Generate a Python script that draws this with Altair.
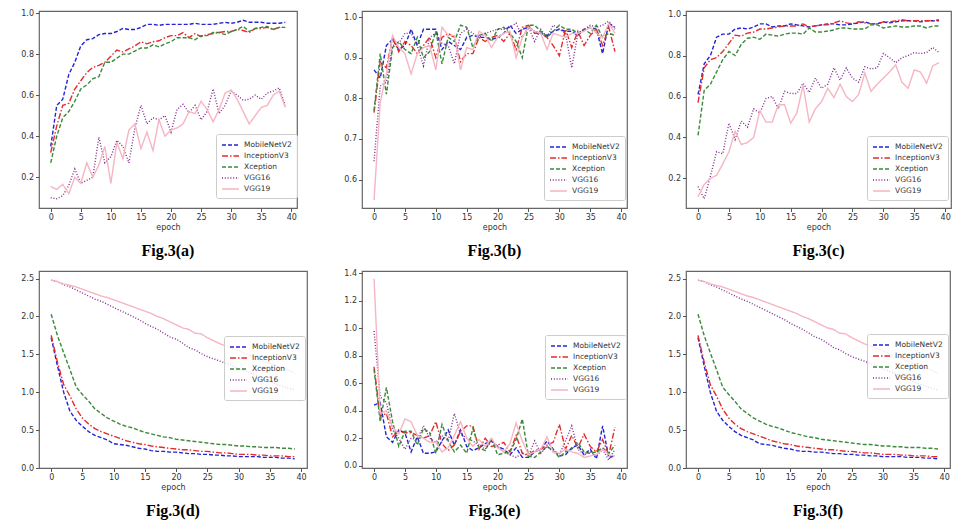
import altair as alt
import pandas as pd

MODELS = ["MobileNetV2", "InceptionV3", "Xception", "VGG16", "VGG19"]
COLORS = ["#2424d4", "#e42a2a", "#3a8a3a", "#7e2e8c", "#f5b5c2"]
DASHES = [[4, 2], [6, 2, 1.5, 2], [4, 2], [1, 1.8], [1, 0]]
EPOCHS = list(range(40))
X_TICKS = [0, 5, 10, 15, 20, 25, 30, 35, 40]

# ---- Fig.3(a) ----
a_mobilenet = [0.35, 0.55, 0.58, 0.70, 0.76, 0.84, 0.87, 0.875, 0.895, 0.90,
               0.90, 0.91, 0.925, 0.92, 0.92, 0.93, 0.945, 0.945, 0.94, 0.945,
               0.945, 0.945, 0.945, 0.945, 0.95, 0.945, 0.945, 0.945, 0.95, 0.955,
               0.95, 0.955, 0.965, 0.955, 0.955, 0.955, 0.95, 0.95, 0.95, 0.955]
a_inception = [0.32, 0.45, 0.55, 0.56, 0.63, 0.67, 0.71, 0.735, 0.745, 0.76,
               0.79, 0.82, 0.81, 0.825, 0.84, 0.86, 0.85, 0.86, 0.865, 0.88,
               0.89, 0.89, 0.905, 0.88, 0.90, 0.885, 0.895, 0.90, 0.905, 0.91,
               0.91, 0.92, 0.915, 0.905, 0.925, 0.925, 0.93, 0.92, 0.93, 0.93]
a_xception = [0.27, 0.40, 0.49, 0.52, 0.57, 0.63, 0.65, 0.68, 0.69, 0.76,
              0.76, 0.78, 0.80, 0.80, 0.815, 0.83, 0.83, 0.845, 0.835, 0.85,
              0.86, 0.88, 0.88, 0.88, 0.87, 0.89, 0.89, 0.905, 0.905, 0.895,
              0.91, 0.92, 0.935, 0.91, 0.925, 0.93, 0.935, 0.92, 0.93, 0.93]
a_vgg16 = [0.10, 0.095, 0.11, 0.16, 0.24, 0.17, 0.185, 0.20, 0.395, 0.27,
           0.30, 0.38, 0.35, 0.27, 0.44, 0.55, 0.46, 0.49, 0.48, 0.50,
           0.42, 0.53, 0.555, 0.515, 0.55, 0.48, 0.52, 0.63, 0.51, 0.55,
           0.62, 0.60, 0.575, 0.58, 0.60, 0.58, 0.61, 0.62, 0.635, 0.55]
a_vgg19 = [0.155, 0.14, 0.165, 0.12, 0.20, 0.17, 0.27, 0.20, 0.26, 0.35,
           0.17, 0.37, 0.29, 0.43, 0.46, 0.34, 0.42, 0.33, 0.48, 0.40,
           0.43, 0.44, 0.46, 0.52, 0.51, 0.57, 0.53, 0.47, 0.53, 0.61,
           0.625, 0.58, 0.52, 0.46, 0.50, 0.54, 0.55, 0.60, 0.62, 0.54]

# ---- Fig.3(b) ----
b_mobilenet = [0.87, 0.85, 0.93, 0.945, 0.92, 0.93, 0.97, 0.93, 0.97, 0.97,
               0.97, 0.92, 0.94, 0.93, 0.92, 0.95, 0.955, 0.95, 0.95, 0.945,
               0.95, 0.96, 0.98, 0.96, 0.97, 0.975, 0.965, 0.96, 0.955, 0.965,
               0.97, 0.965, 0.965, 0.955, 0.97, 0.975, 0.97, 0.91, 0.985, 0.975]
b_inception = [0.765, 0.89, 0.875, 0.95, 0.915, 0.94, 0.93, 0.91, 0.93, 0.95,
               0.90, 0.95, 0.96, 0.95, 0.89, 0.91, 0.91, 0.95, 0.94, 0.95,
               0.955, 0.94, 0.96, 0.92, 0.975, 0.98, 0.96, 0.96, 0.95, 0.93,
               0.905, 0.97, 0.925, 0.965, 0.93, 0.955, 0.97, 0.93, 0.975, 0.915]
b_xception = [0.77, 0.91, 0.81, 0.925, 0.94, 0.92, 0.91, 0.95, 0.90, 0.915,
              0.965, 0.885, 0.95, 0.94, 0.98, 0.975, 0.925, 0.955, 0.96, 0.94,
              0.97, 0.975, 0.96, 0.94, 0.90, 0.98, 0.98, 0.965, 0.95, 0.965,
              0.98, 0.97, 0.97, 0.96, 0.97, 0.96, 0.98, 0.95, 0.96, 0.955]
b_vgg16 = [0.645, 0.83, 0.84, 0.93, 0.935, 0.96, 0.96, 0.93, 0.88, 0.95,
           0.96, 0.935, 0.93, 0.885, 0.96, 0.97, 0.96, 0.95, 0.96, 0.965,
           0.97, 0.97, 0.975, 0.985, 0.95, 0.975, 0.94, 0.97, 0.95, 0.98,
           0.97, 0.96, 0.875, 0.96, 0.97, 0.98, 0.975, 0.98, 0.99, 0.97]
b_vgg19 = [0.55, 0.79, 0.86, 0.955, 0.925, 0.91, 0.86, 0.91, 0.925, 0.93,
           0.87, 0.975, 0.955, 0.955, 0.87, 0.925, 0.92, 0.965, 0.955, 0.925,
           0.95, 0.96, 0.965, 0.90, 0.95, 0.975, 0.965, 0.96, 0.92, 0.96,
           0.955, 0.95, 0.96, 0.96, 0.965, 0.975, 0.96, 0.95, 0.985, 0.96]

# ---- Fig.3(c) ----
c_mobilenet = [0.61, 0.76, 0.80, 0.89, 0.905, 0.905, 0.93, 0.935, 0.93, 0.94,
               0.955, 0.955, 0.94, 0.945, 0.945, 0.955, 0.95, 0.945, 0.94, 0.945,
               0.95, 0.955, 0.955, 0.95, 0.95, 0.955, 0.96, 0.965, 0.955, 0.955,
               0.965, 0.96, 0.965, 0.97, 0.97, 0.97, 0.965, 0.97, 0.97, 0.97]
c_inception = [0.57, 0.74, 0.78, 0.79, 0.82, 0.86, 0.90, 0.895, 0.91, 0.915,
               0.93, 0.93, 0.935, 0.94, 0.945, 0.945, 0.945, 0.955, 0.94, 0.945,
               0.95, 0.95, 0.96, 0.97, 0.96, 0.955, 0.965, 0.96, 0.955, 0.955,
               0.965, 0.965, 0.97, 0.975, 0.97, 0.97, 0.97, 0.97, 0.97, 0.975]
c_xception = [0.41, 0.63, 0.66, 0.72, 0.78, 0.82, 0.80, 0.855, 0.885, 0.89,
              0.88, 0.905, 0.90, 0.895, 0.905, 0.91, 0.91, 0.905, 0.935, 0.915,
              0.915, 0.92, 0.925, 0.935, 0.935, 0.93, 0.93, 0.93, 0.95, 0.95,
              0.935, 0.94, 0.945, 0.94, 0.94, 0.945, 0.945, 0.935, 0.945, 0.945]
c_vgg16 = [0.16, 0.10, 0.21, 0.33, 0.32, 0.47, 0.39, 0.48, 0.45, 0.54,
           0.52, 0.59, 0.60, 0.54, 0.625, 0.615, 0.615, 0.665, 0.62, 0.69,
           0.64, 0.66, 0.74, 0.68, 0.74, 0.69, 0.67, 0.745, 0.735, 0.74,
           0.81, 0.79, 0.765, 0.79, 0.80, 0.815, 0.81, 0.815, 0.84, 0.815]
c_vgg19 = [0.11, 0.17, 0.20, 0.215, 0.27, 0.33, 0.43, 0.365, 0.375, 0.40,
           0.53, 0.475, 0.475, 0.56, 0.56, 0.47, 0.52, 0.655, 0.475, 0.54,
           0.575, 0.64, 0.595, 0.66, 0.60, 0.575, 0.61, 0.715, 0.625, 0.66,
           0.69, 0.72, 0.755, 0.67, 0.64, 0.73, 0.72, 0.665, 0.75, 0.765]

# ---- Fig.3(d) ----
d_mobilenet = [1.72, 1.35, 1.00, 0.75, 0.63, 0.55, 0.48, 0.43, 0.40, 0.37,
               0.32, 0.31, 0.30, 0.28, 0.26, 0.25, 0.23, 0.22, 0.22, 0.21,
               0.21, 0.20, 0.19, 0.19, 0.18, 0.18, 0.17, 0.17, 0.16, 0.16,
               0.15, 0.15, 0.15, 0.15, 0.14, 0.14, 0.14, 0.13, 0.13, 0.12]
d_inception = [1.75, 1.40, 1.10, 0.95, 0.78, 0.66, 0.58, 0.52, 0.48, 0.45,
               0.42, 0.39, 0.36, 0.34, 0.32, 0.31, 0.29, 0.28, 0.27, 0.26,
               0.25, 0.24, 0.24, 0.23, 0.22, 0.22, 0.21, 0.20, 0.20, 0.19,
               0.18, 0.18, 0.18, 0.17, 0.17, 0.16, 0.16, 0.16, 0.15, 0.15]
d_xception = [2.03, 1.75, 1.52, 1.30, 1.07, 0.97, 0.88, 0.78, 0.72, 0.66,
              0.62, 0.58, 0.55, 0.53, 0.50, 0.47, 0.45, 0.43, 0.41, 0.40,
              0.38, 0.37, 0.36, 0.35, 0.34, 0.33, 0.32, 0.31, 0.31, 0.30,
              0.29, 0.29, 0.28, 0.28, 0.27, 0.27, 0.27, 0.26, 0.26, 0.25]
d_vgg16 = [2.48, 2.46, 2.42, 2.39, 2.35, 2.31, 2.27, 2.23, 2.20, 2.16,
           2.12, 2.08, 2.04, 2.00, 1.96, 1.91, 1.87, 1.83, 1.78, 1.73,
           1.70, 1.65, 1.59, 1.56, 1.51, 1.47, 1.44, 1.41, 1.38, 1.35,
           1.31, 1.28, 1.25, 1.21, 1.18, 1.14, 1.11, 1.08, 1.05, 1.03]
d_vgg19 = [2.48, 2.46, 2.43, 2.41, 2.39, 2.36, 2.33, 2.30, 2.27, 2.25,
           2.22, 2.19, 2.16, 2.13, 2.10, 2.07, 2.04, 2.00, 1.97, 1.93,
           1.89, 1.85, 1.83, 1.78, 1.77, 1.72, 1.68, 1.64, 1.61, 1.58,
           1.55, 1.51, 1.48, 1.45, 1.41, 1.38, 1.35, 1.32, 1.29, 1.25]

# ---- Fig.3(e) ----
e_mobilenet = [0.44, 0.46, 0.21, 0.17, 0.26, 0.24, 0.10, 0.21, 0.09, 0.09,
               0.10, 0.18, 0.26, 0.15, 0.26, 0.14, 0.11, 0.13, 0.16, 0.18,
               0.14, 0.12, 0.08, 0.13, 0.06, 0.06, 0.10, 0.12, 0.18, 0.12,
               0.07, 0.08, 0.13, 0.15, 0.08, 0.12, 0.05, 0.29, 0.06, 0.07]
e_inception = [0.72, 0.36, 0.38, 0.21, 0.25, 0.24, 0.24, 0.22, 0.20, 0.22,
               0.32, 0.16, 0.11, 0.15, 0.25, 0.29, 0.29, 0.12, 0.20, 0.14,
               0.15, 0.17, 0.10, 0.22, 0.09, 0.08, 0.11, 0.12, 0.15, 0.17,
               0.30, 0.12, 0.22, 0.13, 0.23, 0.14, 0.10, 0.19, 0.08, 0.28]
e_xception = [0.70, 0.32, 0.57, 0.32, 0.14, 0.25, 0.25, 0.15, 0.27, 0.24,
              0.09, 0.30, 0.18, 0.10, 0.15, 0.09, 0.27, 0.13, 0.11, 0.20,
              0.08, 0.09, 0.10, 0.19, 0.34, 0.07, 0.06, 0.10, 0.14, 0.11,
              0.06, 0.10, 0.12, 0.17, 0.10, 0.09, 0.10, 0.13, 0.09, 0.15]
e_vgg16 = [0.98, 0.50, 0.46, 0.26, 0.20, 0.12, 0.20, 0.19, 0.29, 0.20,
           0.17, 0.22, 0.18, 0.38, 0.23, 0.20, 0.18, 0.15, 0.12, 0.18,
           0.14, 0.10, 0.08, 0.06, 0.09, 0.07, 0.18, 0.09, 0.14, 0.10,
           0.08, 0.18, 0.29, 0.12, 0.08, 0.10, 0.07, 0.12, 0.04, 0.12]
e_vgg19 = [1.36, 0.38, 0.40, 0.28, 0.23, 0.34, 0.32, 0.22, 0.20, 0.17,
           0.17, 0.10, 0.13, 0.22, 0.32, 0.20, 0.14, 0.19, 0.14, 0.20,
           0.13, 0.10, 0.16, 0.31, 0.18, 0.08, 0.10, 0.12, 0.21, 0.10,
           0.09, 0.12, 0.10, 0.09, 0.06, 0.07, 0.08, 0.12, 0.08, 0.07]

# ---- Fig.3(f) (same curves as (d)) ----
f_mobilenet = d_mobilenet
f_inception = d_inception
f_xception = d_xception
f_vgg16 = d_vgg16
f_vgg19 = d_vgg19


def panel(series, ydom, yvals, w, h, lx, ly, ext, caption):
    rows = []
    for m, vals in zip(MODELS, series):
        for ep, v in zip(EPOCHS, vals):
            rows.append({"epoch": ep, "model": m, "value": v})
    df = pd.DataFrame(rows)
    leg = alt.Legend(title=None, orient="none", legendX=lx, legendY=ly)
    return (
        alt.Chart(
            df,
            title=alt.TitleParams(caption, orient="bottom", frame="group", anchor="middle"),
        )
        .mark_line(strokeWidth=1.4, clip=True)
        .encode(
            x=alt.X(
                "epoch:Q",
                scale=alt.Scale(domain=[-1.95, 40.95], nice=False, zero=False),
                axis=alt.Axis(values=X_TICKS, title="epoch", grid=False, format="d"),
            ),
            y=alt.Y(
                "value:Q",
                scale=alt.Scale(domain=ydom, nice=False, zero=False),
                axis=alt.Axis(values=yvals, format=".1f", title=None, grid=False, minExtent=ext),
            ),
            color=alt.Color("model:N", scale=alt.Scale(domain=MODELS, range=COLORS), legend=leg),
            strokeDash=alt.StrokeDash("model:N", scale=alt.Scale(domain=MODELS, range=DASHES), legend=leg),
        )
        .properties(width=w, height=h)
    )


acc_ticks = [0.2, 0.4, 0.6, 0.8, 1.0]
pa = panel([a_mobilenet, a_inception, a_xception, a_vgg16, a_vgg19],
           [0.05, 1.01], acc_ticks, 258, 197, 177, 123, 30, "Fig.3(a)")
pb = panel([b_mobilenet, b_inception, b_xception, b_vgg16, b_vgg19],
           [0.53, 1.015], [0.6, 0.7, 0.8, 0.9, 1.0], 265, 197, 182, 125, 43, "Fig.3(b)")
pc = panel([c_mobilenet, c_inception, c_xception, c_vgg16, c_vgg19],
           [0.055, 1.018], acc_ticks, 265, 197, 181, 125, 47, "Fig.3(c)")
loss_ticks = [0.0, 0.5, 1.0, 1.5, 2.0, 2.5]
pd_ = panel([d_mobilenet, d_inception, d_xception, d_vgg16, d_vgg19],
            [0.0, 2.6], loss_ticks, 268, 197, 185, 65, 30, "Fig.3(d)")
pe = panel([e_mobilenet, e_inception, e_xception, e_vgg16, e_vgg19],
           [-0.017, 1.417], [0.0, 0.2, 0.4, 0.6, 0.8, 1.0, 1.2, 1.4], 265, 197, 183, 64, 43, "Fig.3(e)")
pf = panel([f_mobilenet, f_inception, f_xception, f_vgg16, f_vgg19],
           [0.0, 2.6], loss_ticks, 264, 197, 181, 63, 47, "Fig.3(f)")

chart = (
    alt.concat(pa, pb, pc, pd_, pe, pf, columns=3, spacing={"row": 8, "column": 10})
    .resolve_scale(color="independent", strokeDash="independent")
    .resolve_legend(color="independent", strokeDash="independent")
    .properties(padding=0, background="white")
    .configure_view(stroke="#666666", strokeWidth=1.2)
    .configure_axis(
        domain=False, tickColor="#555555", tickSize=3.5, labelFont="DejaVu Sans",
        labelFontSize=8, labelColor="#333333", titleFont="DejaVu Sans", titleFontSize=8,
        titleFontWeight="normal", titleColor="#333333", labelPadding=2, titlePadding=2,
    )
    .configure_legend(
        fillColor="rgba(255,255,255,0.8)", strokeColor="#cccccc", cornerRadius=2,
        padding=5, symbolType="M-1,0L2.4,0", symbolStrokeWidth=1.3, symbolSize=100,
        labelFont="DejaVu Sans", labelFontSize=7.5, labelColor="#333333",
        labelOffset=11, rowPadding=1,
    )
    .configure_title(font="Liberation Serif", fontSize=16, fontWeight="bold", color="#000000", offset=11)
)

chart.save("out.html", embed_options={"renderer": "svg", "actions": False})
